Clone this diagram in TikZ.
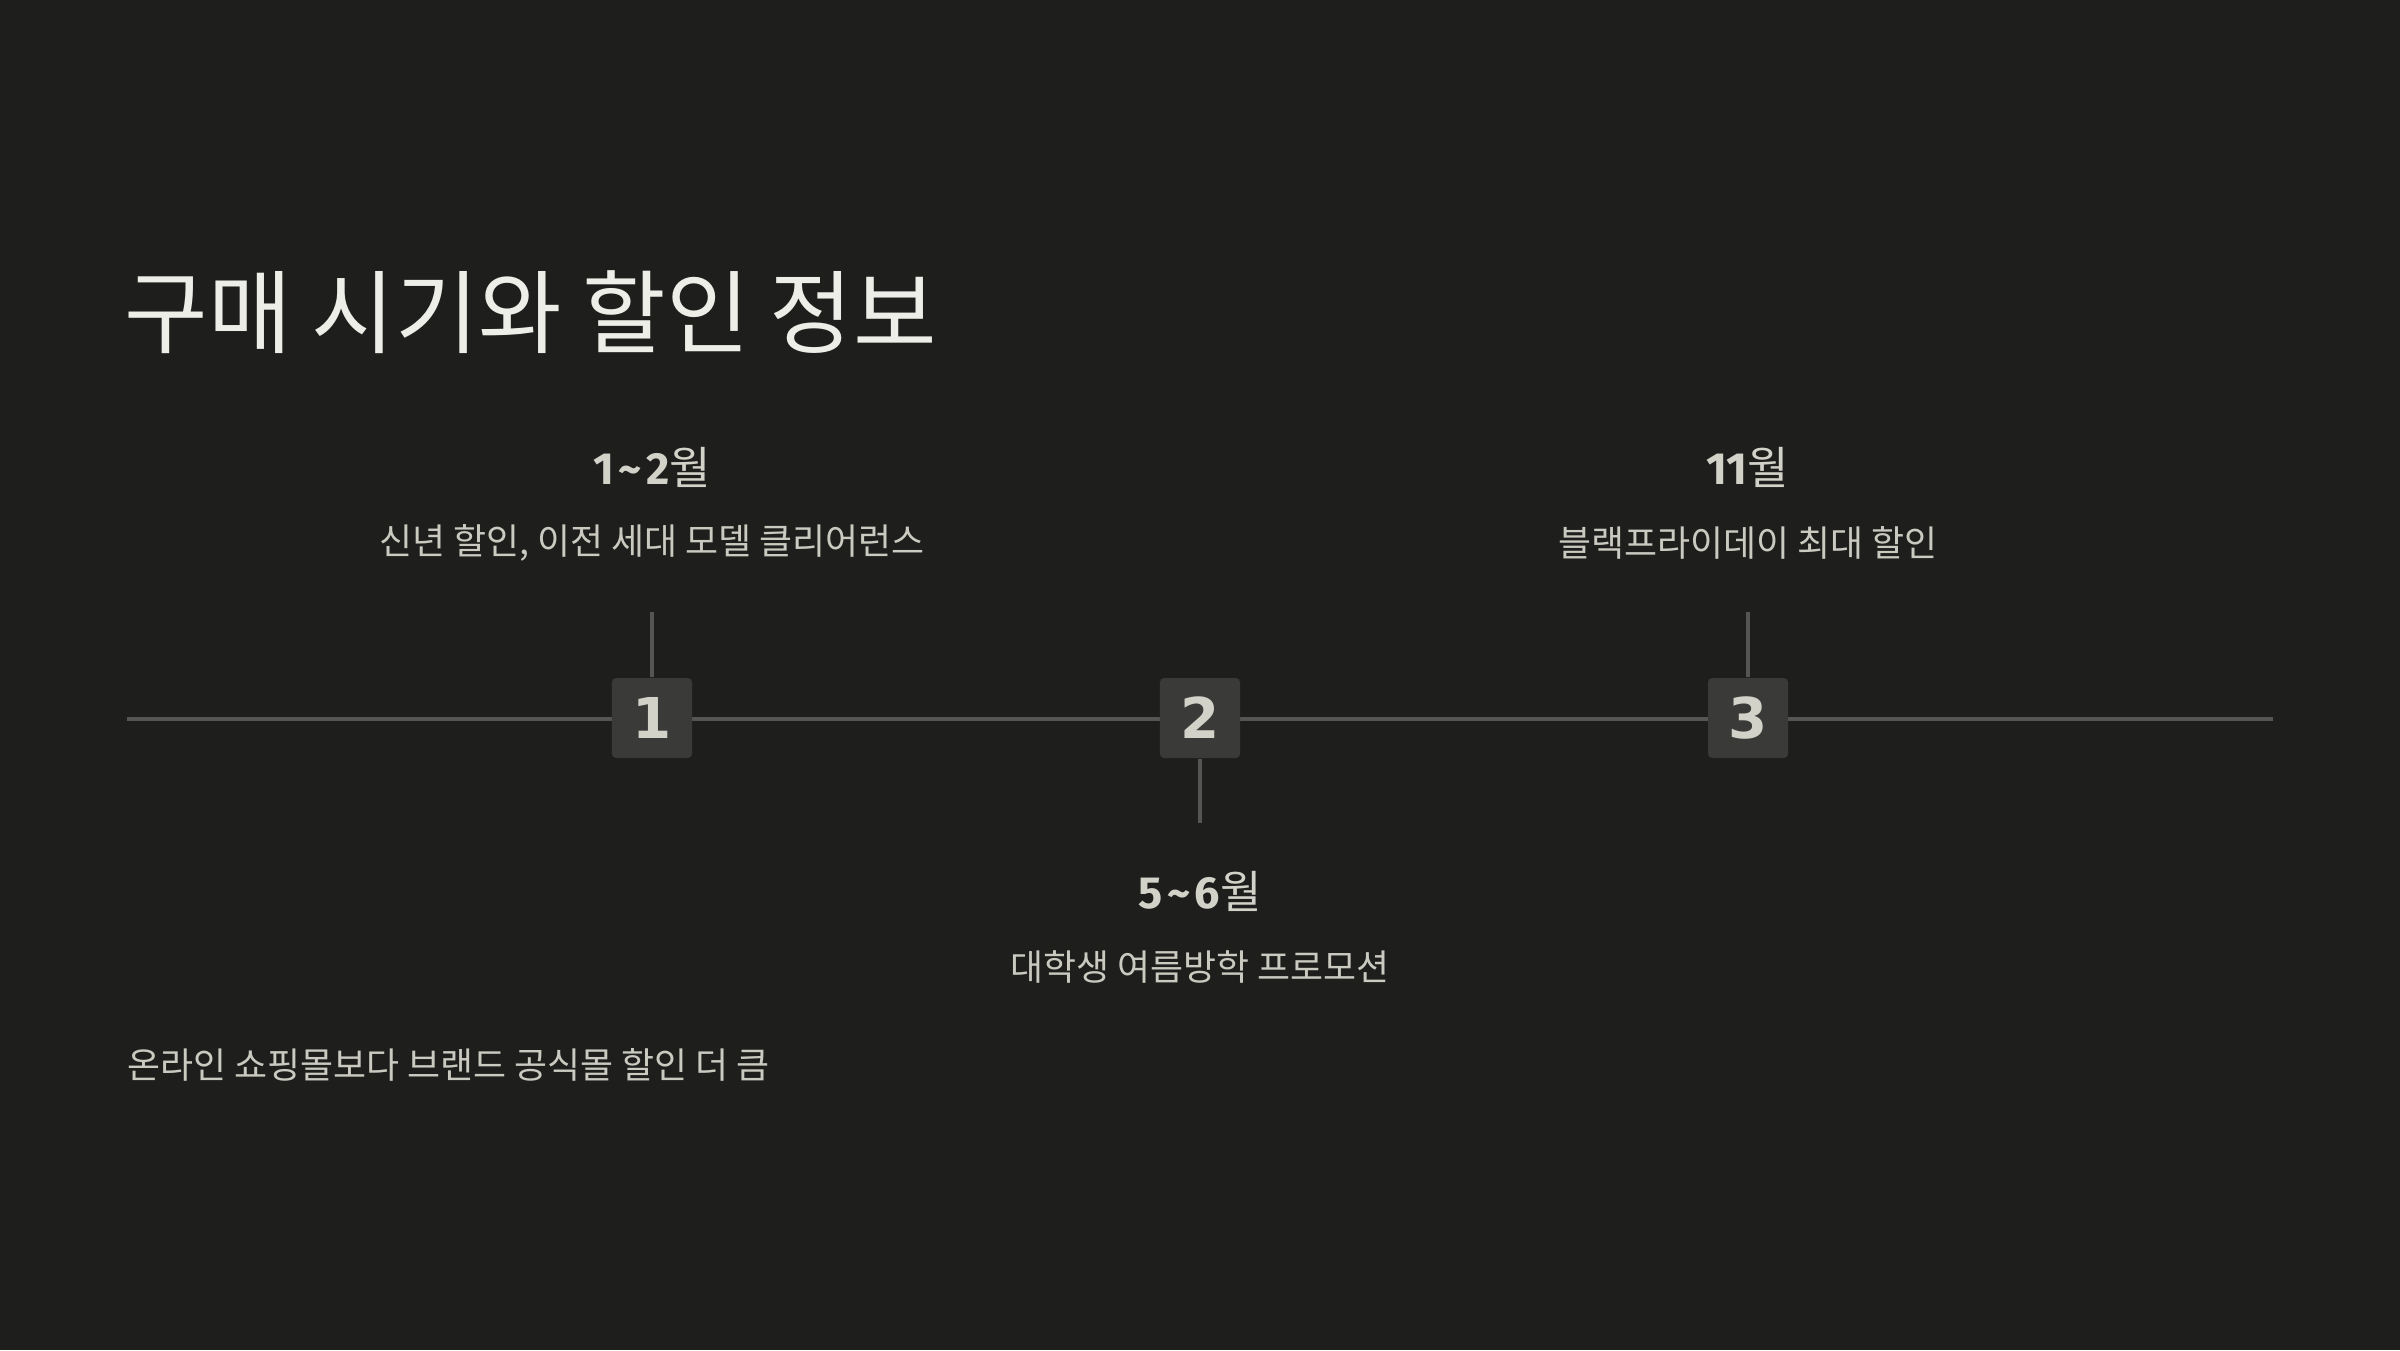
\documentclass[tikz,border=0pt]{standalone}
\usepackage{fontspec}
\setmainfont{Noto Sans CJK KR}
\newfontfamily\numfont{DejaVu Sans}
\newfontfamily\monthfont{Fira Sans}
\usetikzlibrary{positioning}

\definecolor{bgdark}{HTML}{1E1E1C}
\definecolor{titlewhite}{HTML}{EEEEE8}
\definecolor{labeltext}{HTML}{D2D2C9}
\definecolor{desctext}{HTML}{CACAC1}
\definecolor{boxgray}{HTML}{3A3A38}
\definecolor{linegray}{HTML}{555553}

\newcommand{\tl}{\kern0.1em\textasciitilde\kern0.1em}

\tikzset{
  stepbox/.style={fill=boxgray, rounded corners=1.2pt, minimum size=0.8cm, inner sep=0pt,
    text=labeltext, font=\numfont\bfseries\fontsize{16}{16}\selectfont},
  monthlabel/.style={inner sep=0pt, text=labeltext, font=\fontsize{12.8}{15}\selectfont},
  desclabel/.style={inner sep=0pt, text=desctext, font=\fontsize{10.2}{12}\selectfont},
  tline/.style={draw=linegray, line width=1pt},
}

\begin{document}
\begin{tikzpicture}[x=0.01cm, y=-0.01cm]
  \fill[bgdark] (0,0) rectangle (2400,1350);
  \useasboundingbox (0,0) rectangle (2400,1350);
  % Title
  \node[anchor=west, inner sep=0pt, text=titlewhite, font=\fontsize{25.8}{30}\selectfont]
    (title) at (124,312) {구매 시기와 할인 정보};
  % Timeline
  \coordinate (lineL) at (127,719);
  \coordinate (lineR) at (2273,719);
  \draw[tline] (lineL) -- (lineR);
  \node[stepbox] (box1) at (652,718) {1};
  \node[stepbox] (box2) at (1200,718) {2};
  \node[stepbox] (box3) at (1748,718) {3};
  % Ticks
  \coordinate (tick1) at (652,612);
  \coordinate (tick2) at (1200,823);
  \coordinate (tick3) at (1748,612);
  \draw[tline] (tick1) -- (box1.north);
  \draw[tline] (box2.south) -- (tick2);
  \draw[tline] (tick3) -- (box3.north);
  % Periods
  \node[monthlabel] (month1) at (652,467) {{\monthfont\bfseries 1\tl2}월};
  \node[desclabel]  (desc1)  at (652,543) {신년 할인, 이전 세대 모델 클리어런스};
  \node[monthlabel] (month2) at (1200,891) {{\monthfont\bfseries 5\tl6}월};
  \node[desclabel]  (desc2)  at (1200,967) {대학생 여름방학 프로모션};
  \node[monthlabel] (month3) at (1748,467) {{\monthfont\bfseries 11}월};
  \node[desclabel]  (desc3)  at (1748,543) {블랙프라이데이 최대 할인};
  % Note
  \node[desclabel, anchor=west] (note) at (127,1065) {온라인 쇼핑몰보다 브랜드 공식몰 할인 더 큼};
\end{tikzpicture}
\end{document}
